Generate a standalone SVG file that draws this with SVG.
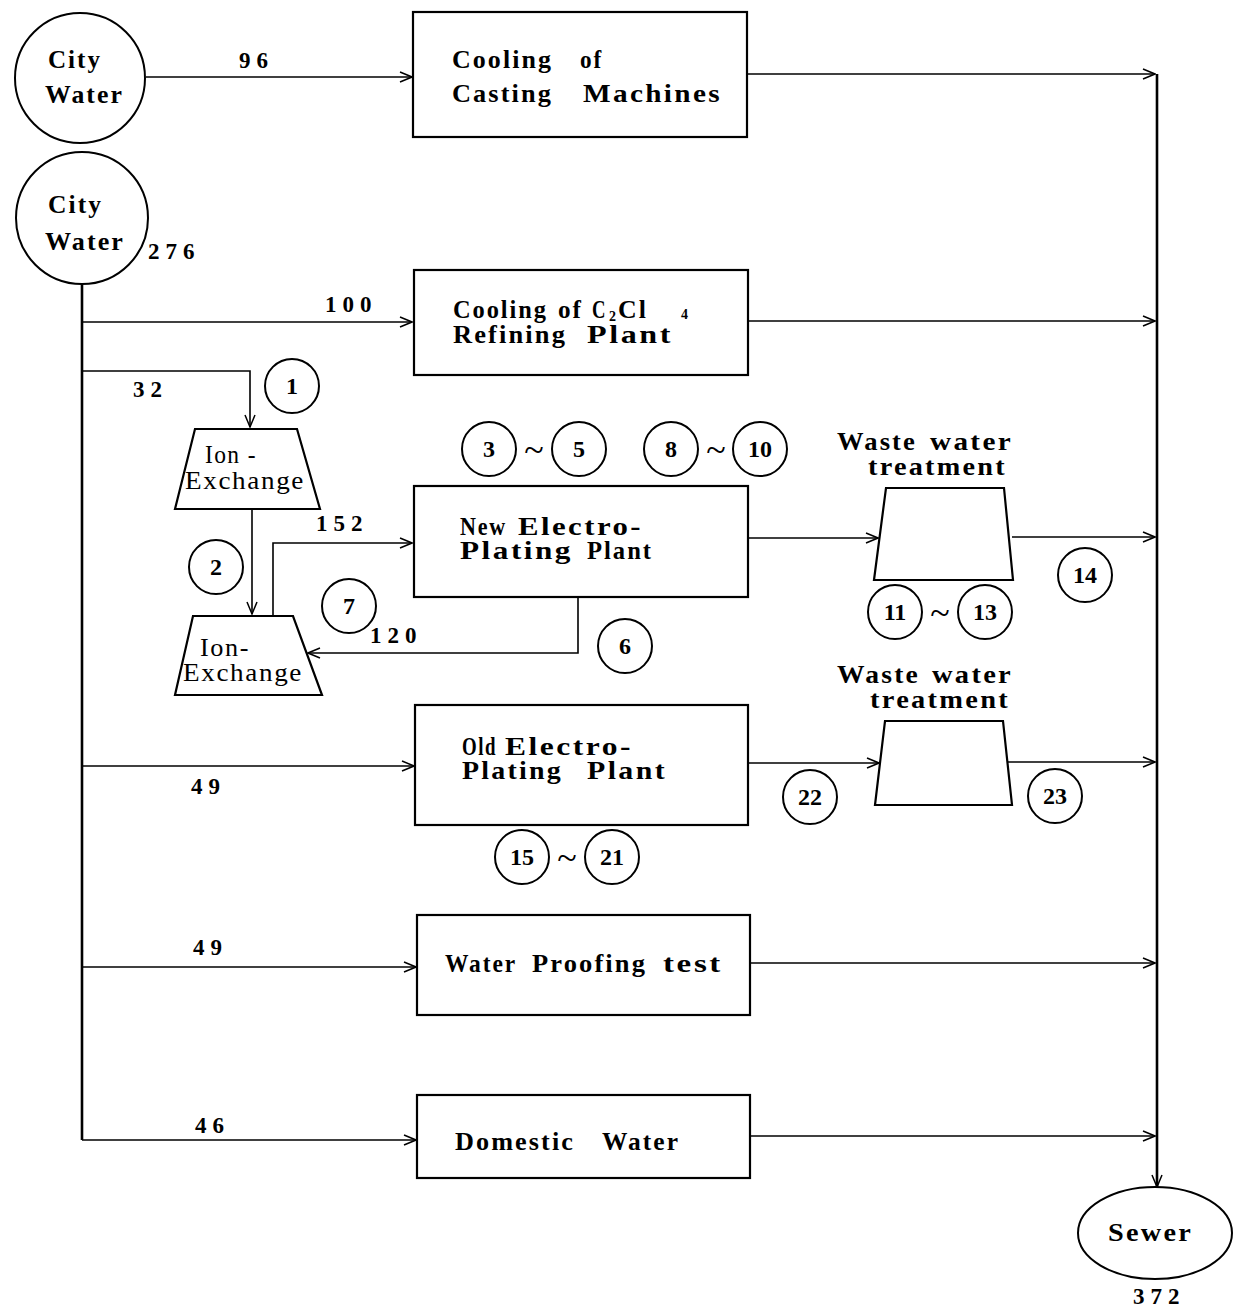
<svg xmlns="http://www.w3.org/2000/svg" width="1233" height="1312" viewBox="0 0 1233 1312">
<defs>
<marker id="arr" viewBox="0 0 14 12" refX="13" refY="6" markerWidth="14" markerHeight="12" markerUnits="userSpaceOnUse" orient="auto">
<polyline points="1,1 13,6 1,11" fill="none" stroke="#000" stroke-width="1.5"/>
</marker>
<style>
.t{font-family:"Liberation Serif","DejaVu Serif",serif;font-weight:bold;font-size:25px;letter-spacing:2px;fill:#000}
.ie{font-family:"Liberation Serif","DejaVu Serif",serif;font-size:25px;letter-spacing:1.5px;fill:#000}
.n{font-family:"Liberation Serif","DejaVu Serif",serif;font-weight:bold;font-size:23px;letter-spacing:6px;fill:#000}
.c{font-family:"Liberation Serif","DejaVu Serif",serif;font-weight:bold;font-size:24px;fill:#000;text-anchor:middle}
.s{font-family:"Liberation Serif","DejaVu Serif",serif;font-weight:bold;font-size:14px;fill:#000}
.tl{font-family:"Liberation Serif","DejaVu Serif",serif;font-size:36px;fill:#000;text-anchor:middle}
.box{fill:#fff;stroke:#000;stroke-width:2.2}
.circ{fill:#fff;stroke:#000;stroke-width:2}
.ln{fill:none;stroke:#000;stroke-width:1.6}
.thick{fill:none;stroke:#000;stroke-width:2.6}
</style>
</defs>
<rect width="1233" height="1312" fill="#fff"/>

<g id="connectors">
<line class="ln" x1="146" y1="77" x2="412" y2="77" marker-end="url(#arr)"/>
<line class="ln" x1="747" y1="74" x2="1155" y2="74" marker-end="url(#arr)"/>
<line class="thick" x1="1157" y1="74" x2="1157" y2="1187" marker-end="url(#arr)"/>
<line class="thick" x1="82" y1="285" x2="82" y2="1140"/>
<line class="ln" x1="82" y1="322" x2="412" y2="322" marker-end="url(#arr)"/>
<line class="ln" x1="748" y1="321" x2="1155" y2="321" marker-end="url(#arr)"/>
<polyline class="ln" points="82,371 250,371 250,427" marker-end="url(#arr)"/>
<line class="ln" x1="252" y1="509" x2="252" y2="614" marker-end="url(#arr)"/>
<polyline class="ln" points="273,615 273,543 412,543" marker-end="url(#arr)"/>
<polyline class="ln" points="578,597 578,653 308,653" marker-end="url(#arr)"/>
<line class="ln" x1="748" y1="538" x2="878" y2="538" marker-end="url(#arr)"/>
<line class="ln" x1="1012" y1="537" x2="1155" y2="537" marker-end="url(#arr)"/>
<line class="ln" x1="82" y1="766" x2="414" y2="766" marker-end="url(#arr)"/>
<line class="ln" x1="748" y1="763" x2="879" y2="763" marker-end="url(#arr)"/>
<line class="ln" x1="1008" y1="762" x2="1155" y2="762" marker-end="url(#arr)"/>
<line class="ln" x1="82" y1="967" x2="416" y2="967" marker-end="url(#arr)"/>
<line class="ln" x1="750" y1="963" x2="1155" y2="963" marker-end="url(#arr)"/>
<line class="ln" x1="82" y1="1140" x2="416" y2="1140" marker-end="url(#arr)"/>
<line class="ln" x1="750" y1="1136" x2="1155" y2="1136" marker-end="url(#arr)"/>
</g>

<g id="labels">
<text class="n" x="239" y="68">96</text>
<text class="n" x="148" y="259">276</text>
<text class="n" x="325" y="312">100</text>
<text class="n" x="133" y="397">32</text>
<text class="n" x="316" y="531">152</text>
<text class="n" x="370" y="643">120</text>
<text class="n" x="191" y="794">49</text>
<text class="n" x="193" y="955">49</text>
<text class="n" x="195" y="1133">46</text>
<text class="n" x="1133" y="1304">372</text>
</g>

<g id="city1"><circle class="circ" cx="80" cy="78" r="65"/>
<text class="t" x="48" y="68" textLength="54" lengthAdjust="spacingAndGlyphs">City</text>
<text class="t" x="45" y="103" textLength="79" lengthAdjust="spacingAndGlyphs">Water</text></g>
<g id="city2"><circle class="circ" cx="82" cy="218" r="66"/>
<text class="t" x="48" y="213" textLength="55" lengthAdjust="spacingAndGlyphs">City</text>
<text class="t" x="45" y="250" textLength="80" lengthAdjust="spacingAndGlyphs">Water</text></g>

<g id="casting"><rect class="box" x="413" y="12" width="334" height="125"/>
<text class="t" x="452" y="68" textLength="101" lengthAdjust="spacingAndGlyphs">Cooling</text>
<text class="t" x="580" y="68" textLength="23" lengthAdjust="spacingAndGlyphs">of</text>
<text class="t" x="452" y="102" textLength="101" lengthAdjust="spacingAndGlyphs">Casting</text>
<text class="t" x="583" y="102" textLength="139" lengthAdjust="spacingAndGlyphs">Machines</text></g>

<g id="c2cl4"><rect class="box" x="414" y="270" width="334" height="105"/>
<text class="t" x="453" y="318" textLength="95" lengthAdjust="spacingAndGlyphs">Cooling</text>
<text class="t" x="558" y="318" textLength="25" lengthAdjust="spacingAndGlyphs">of</text>
<text class="t" x="592" y="318" textLength="15" lengthAdjust="spacingAndGlyphs">C</text>
<text class="s" x="609" y="321">2</text>
<text class="t" x="618" y="318" textLength="30" lengthAdjust="spacingAndGlyphs">Cl</text>
<text class="s" x="681" y="319">4</text>
<text class="t" x="453" y="343" textLength="114" lengthAdjust="spacingAndGlyphs">Refining</text>
<text class="t" x="587" y="343" textLength="86" lengthAdjust="spacingAndGlyphs">Plant</text></g>

<g id="ion1"><polygon class="box" points="195,429 297,429 320,509 175,509"/>
<text class="ie" x="205" y="463" textLength="52" lengthAdjust="spacingAndGlyphs">Ion -</text>
<text class="ie" x="185" y="489" textLength="120" lengthAdjust="spacingAndGlyphs">Exchange</text></g>

<g id="ion2"><polygon class="box" points="193,616 293,616 322,695 175,695"/>
<text class="ie" x="200" y="656" textLength="50" lengthAdjust="spacingAndGlyphs">Ion-</text>
<text class="ie" x="183" y="681" textLength="120" lengthAdjust="spacingAndGlyphs">Exchange</text></g>

<g id="newplating"><rect class="box" x="414" y="486" width="334" height="111"/>
<text class="t" x="460" y="535" textLength="47" lengthAdjust="spacingAndGlyphs">New</text>
<text class="t" x="518" y="535" textLength="125" lengthAdjust="spacingAndGlyphs">Electro-</text>
<text class="t" x="460" y="559" textLength="113" lengthAdjust="spacingAndGlyphs">Plating</text>
<text class="t" x="587" y="559" textLength="66" lengthAdjust="spacingAndGlyphs">Plant</text></g>

<g id="wwt1">
<text class="t" x="837" y="450" textLength="80" lengthAdjust="spacingAndGlyphs">Waste</text>
<text class="t" x="930" y="450" textLength="83" lengthAdjust="spacingAndGlyphs">water</text>
<text class="t" x="868" y="475" textLength="139" lengthAdjust="spacingAndGlyphs">treatment</text>
<polygon class="box" points="886,488 1004,488 1013,580 874,580"/></g>

<g id="oldplating"><rect class="box" x="415" y="705" width="333" height="120"/>
<text class="t" x="462" y="755" textLength="35" lengthAdjust="spacingAndGlyphs">Old</text>
<text class="t" x="505" y="755" textLength="128" lengthAdjust="spacingAndGlyphs">Electro-</text>
<text class="t" x="462" y="779" textLength="101" lengthAdjust="spacingAndGlyphs">Plating</text>
<text class="t" x="587" y="779" textLength="80" lengthAdjust="spacingAndGlyphs">Plant</text></g>

<g id="wwt2">
<text class="t" x="837" y="683" textLength="83" lengthAdjust="spacingAndGlyphs">Waste</text>
<text class="t" x="932" y="683" textLength="81" lengthAdjust="spacingAndGlyphs">water</text>
<text class="t" x="870" y="708" textLength="140" lengthAdjust="spacingAndGlyphs">treatment</text>
<polygon class="box" points="885,721 1003,721 1012,805 875,805"/></g>

<g id="proofing"><rect class="box" x="417" y="915" width="333" height="100"/>
<text class="t" x="445" y="972" textLength="72" lengthAdjust="spacingAndGlyphs">Water</text>
<text class="t" x="532" y="972" textLength="115" lengthAdjust="spacingAndGlyphs">Proofing</text>
<text class="t" x="663" y="972" textLength="60" lengthAdjust="spacingAndGlyphs">test</text></g>

<g id="domestic"><rect class="box" x="417" y="1095" width="333" height="83"/>
<text class="t" x="455" y="1150" textLength="120" lengthAdjust="spacingAndGlyphs">Domestic</text>
<text class="t" x="602" y="1150" textLength="78" lengthAdjust="spacingAndGlyphs">Water</text></g>

<g id="sewer"><ellipse class="circ" cx="1155" cy="1233" rx="77" ry="46"/>
<text class="t" x="1108" y="1241" textLength="85" lengthAdjust="spacingAndGlyphs">Sewer</text></g>

<g id="markers">
<g id="m1"><circle class="circ" cx="292" cy="386" r="27"/><text class="c" x="292" y="394">1</text></g>
<g id="m2"><circle class="circ" cx="216" cy="567" r="27"/><text class="c" x="216" y="575">2</text></g>
<g id="m3"><circle class="circ" cx="489" cy="449" r="27"/><text class="c" x="489" y="457">3</text></g>
<text class="tl" x="534" y="462">~</text>
<g id="m5"><circle class="circ" cx="579" cy="449" r="27"/><text class="c" x="579" y="457">5</text></g>
<g id="m6"><circle class="circ" cx="625" cy="646" r="27"/><text class="c" x="625" y="654">6</text></g>
<g id="m7"><circle class="circ" cx="349" cy="606" r="27"/><text class="c" x="349" y="614">7</text></g>
<g id="m8"><circle class="circ" cx="671" cy="449" r="27"/><text class="c" x="671" y="457">8</text></g>
<text class="tl" x="716" y="462">~</text>
<g id="m10"><circle class="circ" cx="760" cy="449" r="27"/><text class="c" x="760" y="457">10</text></g>
<g id="m11"><circle class="circ" cx="895" cy="612" r="27"/><text class="c" x="895" y="620">11</text></g>
<text class="tl" x="940" y="625">~</text>
<g id="m13"><circle class="circ" cx="985" cy="612" r="27"/><text class="c" x="985" y="620">13</text></g>
<g id="m14"><circle class="circ" cx="1085" cy="575" r="27"/><text class="c" x="1085" y="583">14</text></g>
<g id="m15"><circle class="circ" cx="522" cy="857" r="27"/><text class="c" x="522" y="865">15</text></g>
<text class="tl" x="567" y="870">~</text>
<g id="m21"><circle class="circ" cx="612" cy="857" r="27"/><text class="c" x="612" y="865">21</text></g>
<g id="m22"><circle class="circ" cx="810" cy="797" r="27"/><text class="c" x="810" y="805">22</text></g>
<g id="m23"><circle class="circ" cx="1055" cy="796" r="27"/><text class="c" x="1055" y="804">23</text></g>
</g>
</svg>
